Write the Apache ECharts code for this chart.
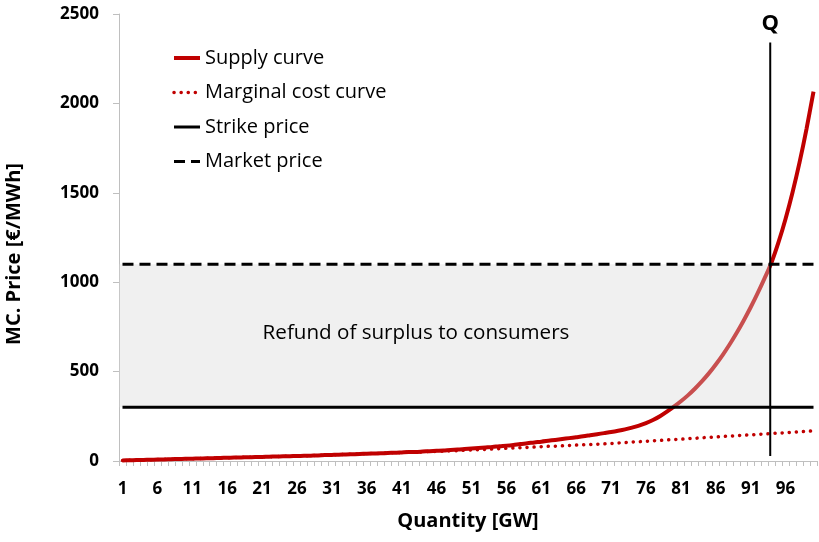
<!DOCTYPE html>
<html>
<head>
<meta charset="utf-8">
<title>Supply curve</title>
<script src="https://cdn.jsdelivr.net/npm/echarts@6/dist/echarts.min.js"></script>
<style>
  html, body { margin: 0; padding: 0; background: #fff; }
  #chart { width: 819px; height: 542px; }
</style>
</head>
<body>
<div id="chart"></div>
<script>
// quantity steps [GW]
const quantities = [
  1, 2, 3, 4, 5, 6, 7, 8, 9, 10, 11, 12, 13, 14, 15, 16, 17, 18, 19, 20,
  21, 22, 23, 24, 25, 26, 27, 28, 29, 30, 31, 32, 33, 34, 35, 36, 37, 38, 39, 40,
  41, 42, 43, 44, 45, 46, 47, 48, 49, 50, 51, 52, 53, 54, 55, 56, 57, 58, 59, 60,
  61, 62, 63, 64, 65, 66, 67, 68, 69, 70, 71, 72, 73, 74, 75, 76, 77, 78, 79, 80,
  81, 82, 83, 84, 85, 86, 87, 88, 89, 90, 91, 92, 93, 94, 95, 96, 97, 98, 99, 100
];

// €/MWh
const supplyCurve = [
  3, 4, 5, 6, 7, 8, 9, 10, 11, 12,
  13, 14, 15, 16, 17, 18, 19, 20, 21, 22,
  23, 24, 25, 26, 27, 28, 29, 30, 31, 33,
  34, 35, 37, 38, 39, 41, 42, 43, 45, 46,
  48, 50, 51, 53, 55, 57, 59, 62, 64, 67,
  70, 73, 76, 79, 83, 86, 90, 95, 99, 104,
  108, 113, 118, 123, 128, 133, 138, 144, 150, 156,
  162, 169, 177, 187, 198, 212, 229, 250, 276, 304,
  334, 367, 404, 445, 490, 540, 594, 653, 717, 786,
  860, 939, 1023, 1112, 1225, 1355, 1503, 1670, 1858, 2066
];

const marginalCost = [
  3, 4, 5, 6, 7, 8, 9, 10, 11, 12,
  13, 14, 15, 16, 17, 18, 19, 20, 21, 22,
  23, 24, 25, 26, 27, 28, 29, 30, 31, 33,
  34, 35, 37, 38, 39, 41, 42, 43, 45, 46,
  47, 49, 50, 51, 53, 54, 55, 57, 58, 60,
  62, 63, 65, 67, 69, 71, 73, 74, 76, 78,
  80, 82, 83, 85, 87, 89, 91, 92, 94, 96,
  98, 101, 103, 106, 108, 110, 113, 115, 118, 120,
  122, 125, 127, 130, 132, 134, 137, 139, 142, 144,
  146, 149, 151, 154, 156, 158, 161, 163, 166, 168
];

const strikePrice = 300;
const marketPrice = 1100;
const qQuantity = 93.8;          // where supply meets market price
const qLineRange = [28, 2340];   // vertical extent of the Q marker
const yTicks = [0, 500, 1000, 1500, 2000, 2500];

const FONT = '"Open Sans", "Noto Sans", sans-serif';
const RED = '#c00000';
const AXIS_GREY = '#bfbfbf';

const chart = echarts.init(document.getElementById('chart'), null, { renderer: 'canvas' });

const option = {
  animation: false,
  textStyle: { fontFamily: FONT },
  grid: { left: 119, right: 2, top: 14, bottom: 81, containLabel: false },
  legend: {
    data: ['Supply curve', 'Marginal cost curve', 'Strike price', 'Market price'],
    orient: 'vertical',
    left: 172,
    top: 47,
    padding: 0,
    itemWidth: 26,
    itemHeight: 14,
    itemGap: 12.5,
    selectedMode: false,
    itemStyle: { opacity: 0 },
    lineStyle: { width: 'inherit' },
    textStyle: { fontFamily: FONT, fontSize: 20, color: '#000', lineHeight: 22 }
  },
  xAxis: [
    {
      type: 'category',
      data: quantities,
      boundaryGap: true,
      name: 'Quantity [GW]',
      nameLocation: 'middle',
      nameGap: 50,
      nameTextStyle: { fontFamily: FONT, fontSize: 20, fontWeight: 'bold', color: '#000' },
      axisLine: { lineStyle: { color: AXIS_GREY, width: 1 } },
      axisTick: { show: true, interval: 0, length: 5, lineStyle: { color: AXIS_GREY } },
      axisLabel: { interval: 4, margin: 20, fontFamily: FONT, fontSize: 17, fontWeight: 'bold', color: '#000' },
      splitLine: { show: false }
    },
    {
      type: 'value',
      min: 0.5,
      max: 100.5,
      show: false
    }
  ],
  yAxis: {
    type: 'value',
    min: yTicks[0],
    max: yTicks[yTicks.length - 1],
    interval: 500,
    axisLine: { show: true, lineStyle: { color: AXIS_GREY, width: 1 } },
    axisTick: { show: true, length: 6, lineStyle: { color: AXIS_GREY } },
    axisLabel: {
      margin: 20,
      formatter: (v) => String(v),
      fontFamily: FONT,
      fontSize: 17,
      fontWeight: 'bold',
      color: '#000'
    },
    splitLine: { show: false }
  },
  graphic: [
    {
      type: 'text',
      x: 14,
      y: 254,
      rotation: Math.PI / 2,
      style: {
        text: 'MC. Price [€/MWh]',
        font: 'bold 20px ' + FONT,
        fill: '#000',
        align: 'center',
        verticalAlign: 'middle'
      }
    },
    {
      type: 'text',
      x: 416,
      y: 333,
      z: 10,
      style: {
        text: 'Refund of surplus to consumers',
        font: '20.6px ' + FONT,
        fill: '#000',
        align: 'center',
        verticalAlign: 'middle'
      }
    }
  ],
  series: [
    {
      name: 'Supply curve',
      type: 'line',
      data: supplyCurve,
      symbol: 'none',
      smooth: 0.3,
      z: 2,
      lineStyle: { color: RED, width: 4 },
      itemStyle: { color: RED }
    },
    {
      name: 'Marginal cost curve',
      type: 'line',
      data: marginalCost,
      symbol: 'none',
      smooth: 0.3,
      z: 2,
      lineStyle: { color: RED, width: 3.5, type: [0.1, 7], cap: 'round' },
      itemStyle: { color: RED }
    },
    {
      name: 'Refund',
      type: 'line',
      xAxisIndex: 1,
      data: [[0.5, marketPrice], [qQuantity, marketPrice]],
      symbol: 'none',
      z: 3,
      lineStyle: { width: 0 },
      areaStyle: { origin: strikePrice, color: 'rgba(215,215,215,0.37)', opacity: 1 }
    },
    {
      name: 'Strike price',
      type: 'line',
      data: quantities.map(() => strikePrice),
      symbol: 'none',
      z: 4,
      lineStyle: { color: '#000', width: 3 },
      itemStyle: { color: '#000' }
    },
    {
      name: 'Market price',
      type: 'line',
      data: quantities.map(() => marketPrice),
      symbol: 'none',
      z: 4,
      lineStyle: { color: '#000', width: 3, type: [11, 6] },
      itemStyle: { color: '#000' }
    },
    {
      name: 'Q',
      type: 'line',
      xAxisIndex: 1,
      data: [
        [qQuantity, qLineRange[0]],
        {
          value: [qQuantity, qLineRange[1]],
          label: {
            show: true,
            position: 'top',
            distance: 8,
            formatter: 'Q',
            fontFamily: FONT,
            fontSize: 22,
            fontWeight: 'bold',
            color: '#000'
          }
        }
      ],
      symbol: 'circle',
      symbolSize: 0,
      z: 4,
      lineStyle: { color: '#000', width: 2 },
      itemStyle: { color: '#000' }
    }
  ]
};

chart.setOption(option);
</script>
</body>
</html>
